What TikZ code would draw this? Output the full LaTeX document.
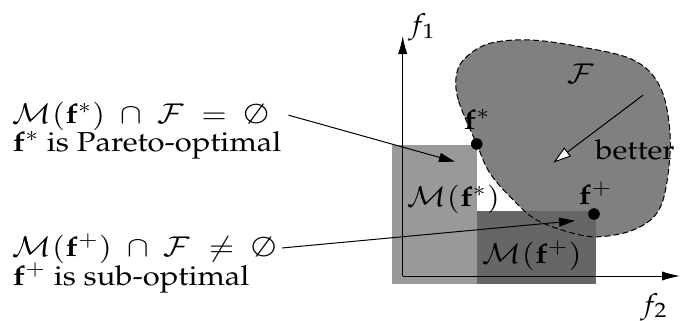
\documentclass[tikz,border=0pt]{standalone}
\usepackage[T1]{fontenc}
\usepackage{mathpazo}
\usetikzlibrary{arrows.meta,calc}
\begin{document}
\begin{tikzpicture}[x=0.5pt,y=-0.5pt,
  txt/.style={inner sep=0pt, anchor=base west, xscale=1.13, font=\fontsize{13.7}{15}\selectfont},
  ptdot/.style={circle, fill=black, inner sep=0pt, minimum size=5.8pt},
  axis/.style={line width=0.5pt, -{Latex[length=9pt,width=4.6pt]}},
  conn/.style={line width=0.5pt, -{Triangle[length=8pt,width=4.5pt]}},
  betterarrow/.style={line width=0.5pt, -{Triangle[open,fill=white,length=9pt,width=5.5pt]}}]
\useasboundingbox (0,0) rectangle (680,321);
% feasible region fill
\path[fill=black!50] plot[smooth cycle, tension=0.6] coordinates {
  (476.7,144) (458.3,100) (456.7,73.3) (466.7,56.7) (490,43.3) (530,40)
  (580,46.7) (633.3,60) (660,86.7) (670,133.3) (666.7,183.3) (656.7,213.3)
  (633.3,230) (600,236.7) (573.3,233.3) (536.7,220) (513.3,200) (490,173.3)};
% dominated regions
\fill[black!40] (391.7,145) rectangle (476.7,284);
\fill[black!60] (476.7,210.7) rectangle (596,284);
% dashed boundary
\draw[line width=0.5pt, dash pattern=on 3pt off 1.5pt] plot[smooth cycle, tension=0.6] coordinates {
  (476.7,144) (458.3,100) (456.7,73.3) (466.7,56.7) (490,43.3) (530,40)
  (580,46.7) (633.3,60) (660,86.7) (670,133.3) (666.7,183.3) (656.7,213.3)
  (633.3,230) (600,236.7) (573.3,233.3) (536.7,220) (513.3,200) (490,173.3)};
% axes
\coordinate (o) at (402.7,276);
\coordinate (ytip) at (402.7,36);
\coordinate (xtip) at (680,276);
\draw[axis] (o) -- (ytip);
\draw[axis] (o) -- (xtip);
\node[txt] (f1) at (408,33) {$f_1$};
\node[txt] (f2) at (640,313) {$f_2$};
% points
\node[ptdot] (fs) at (476.7,144) {};
\node[ptdot] (fp) at (594,214) {};
\node[txt] (fslab) at (463,129) {$\mathbf{f}^*$};
\node[txt] (fplab) at (578,204) {$\mathbf{f}^+$};
\node[txt] (F) at (566.7,83) {$\mathcal{F}$};
\node[txt] (better) at (595,159) {better};
\node[txt] (Ms) at (406.7,206.5) {$\mathcal{M}(\mathbf{f}^*)$};
\node[txt] (Mp) at (481.7,263) {$\mathcal{M}(\mathbf{f}^+)$};
% better arrow
\coordinate (bs) at (643.3,95);
\coordinate (be) at (553.3,162.7);
\draw[betterarrow] (bs) -- (be);
% left texts
\node[txt] (l1) at (12,123.3) {$\mathcal{M}(\mathbf{f}^*)\;\cap\;\mathcal{F}\;=\;\emptyset$};
\node[txt] (l2) at (12,151.5) {$\mathbf{f}^*$ is Pareto-optimal};
\node[txt] (l3) at (12,256.7) {$\mathcal{M}(\mathbf{f}^+)\;\cap\;\mathcal{F}\;\neq\;\emptyset$};
\node[txt] (l4) at (12,285) {$\mathbf{f}^+$ is sub-optimal};
\coordinate (a1) at (455,161.7);
\coordinate (a2) at (575,220.7);
\draw[conn] ($(l1.east)+(20,-1)$) -- (a1);
\draw[conn] ($(l3.east)+(6,-1)$) -- (a2);
\end{tikzpicture}
\end{document}
